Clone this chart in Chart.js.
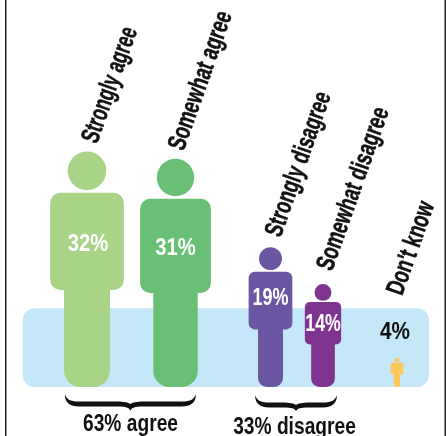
<!DOCTYPE html>
<html lang="en">
<head>
    <meta charset="UTF-8">
    <title>Agree or disagree</title>
    <script src="https://cdn.jsdelivr.net/npm/chart.js"></script>
    <style>
        html, body { margin: 0; padding: 0; background: #fff; overflow: hidden; }
        canvas { display: block; }
    </style>
</head>
<body>
    <canvas id="people" width="446" height="436"></canvas>
<script>
    // values
    const categories = ['Strongly agree', 'Somewhat agree', 'Strongly disagree', 'Somewhat disagree', "Don't know"];
    const percents = [32, 31, 19, 14, 4];
    const groupLabels = ['63% agree', '33% disagree'];

    // look of each figure
    const colors = ['#a9d386', '#69c074', '#6b56a3', '#7f3590', '#fdc75d'];
    const textFont = '"Liberation Sans", sans-serif';
    const shiftX = [0, 11, 28.5, 3.5, 0];
    const torsoW = [73.7, 70.7, 43.7, 36.3, 12.7];
    const legW = [46, 44.4, 25, 23.7, 6.3];
    const percentDx = [1, 0, 0, 0, 0];
    const percentDy = [4, 3, -2, 2, 0];
    const percentSquash = [0.88, 0.88, 0.78, 0.77, 0.9];
    const nameOffset = [[10, -7], [8, -7], [10, -9], [9, -12], [5, -61]];
    const nameSquash = [0.665, 0.705, 0.69, 0.7, 0.7];

    // the condensed face is not installed, so squeeze the regular one sideways
    function narrowText(ctx, text, x, y, squash, weight) {
        ctx.save();
        ctx.translate(x, y);
        ctx.scale(squash, 1);
        ctx.fillText(text, 0, 0);
        if (weight) {
            ctx.lineWidth = weight;
            ctx.strokeStyle = ctx.fillStyle;
            ctx.strokeText(text, 0, 0);
        }
        ctx.restore();
    }

    function bracePath(ctx, x1, x2, top, bottom) {
        // curly brace, filled so the stroke can swell towards the shoulders
        const mid = (x1 + x2) / 2;
        const upper = top + 7.5;
        const lower = top + 12.5;
        ctx.beginPath();
        ctx.moveTo(x1, top);
        ctx.bezierCurveTo(x1 + 1, top + 5, x1 + 5, upper, x1 + 14, upper);
        ctx.lineTo(mid - 14, upper);
        ctx.bezierCurveTo(mid - 6, upper, mid - 2, upper + 1, mid, top + 10);
        ctx.bezierCurveTo(mid + 2, upper + 1, mid + 6, upper, mid + 14, upper);
        ctx.lineTo(x2 - 14, upper);
        ctx.bezierCurveTo(x2 - 5, upper, x2 - 1, top + 5, x2, top);
        ctx.bezierCurveTo(x2 + 1, top + 8, x2 - 5, lower, x2 - 14, lower);
        ctx.lineTo(mid + 12, lower);
        ctx.bezierCurveTo(mid + 5, lower, mid + 1, lower + 1, mid, bottom);
        ctx.bezierCurveTo(mid - 1, lower + 1, mid - 5, lower, mid - 12, lower);
        ctx.lineTo(x1 + 14, lower);
        ctx.bezierCurveTo(x1 + 5, lower, x1 - 1, top + 8, x1, top);
        ctx.closePath();
        ctx.fill();
    }

    const peoplePlugin = {
        id: 'people',
        // side rules and the pale band sit behind the figures
        beforeDatasetsDraw(chart) {
            const ctx = chart.ctx;
            const yTop = chart.scales.y.getPixelForValue(10.7);
            const yBase = chart.scales.y.getPixelForValue(0);
            ctx.save();
            ctx.fillStyle = '#222';
            ctx.fillRect(5, 0, 1.5, 436);
            ctx.fillRect(444.5, 0, 1.5, 436);
            ctx.fillStyle = '#c5e8f9';
            ctx.beginPath();
            ctx.roundRect(22.7, yTop, 406.3, yBase - yTop, 12);
            ctx.fill();
            ctx.restore();
        },
        // each bar is drawn as a person: head, torso, legs
        beforeDatasetDraw(chart, args) {
            const ctx = chart.ctx;
            ctx.save();
            args.meta.data.forEach((bar, i) => {
                const cx = bar.x + shiftX[i];
                const top = bar.y;
                const h = bar.base - bar.y;
                const r = h * 0.082;
                const tw = torsoW[i];
                const lw = legW[i];
                const torsoTop = top + h * 0.175;
                const torsoBottom = top + h * 0.588;
                ctx.fillStyle = colors[i];
                ctx.beginPath();
                ctx.arc(cx, top + r, r, 0, Math.PI * 2);
                ctx.fill();
                ctx.beginPath();
                ctx.roundRect(cx - tw / 2, torsoTop, tw, torsoBottom - torsoTop, tw * 0.14);
                ctx.fill();
                ctx.beginPath();
                ctx.roundRect(cx - lw / 2, torsoBottom - 4, lw, bar.base - torsoBottom + 4, [0, 0, lw * 0.36, lw * 0.36]);
                ctx.fill();
            });
            ctx.restore();
            return false;
        },
        afterDatasetsDraw(chart) {
            const ctx = chart.ctx;
            const meta = chart.getDatasetMeta(0);
            ctx.save();
            meta.data.forEach((bar, i) => {
                const cx = bar.x + shiftX[i];
                const h = bar.base - bar.y;
                // name of the category, tilted above the head
                ctx.save();
                ctx.translate(cx + nameOffset[i][0], bar.y + nameOffset[i][1]);
                ctx.rotate(-70.5 * Math.PI / 180);
                ctx.font = 'bold 26px ' + textFont;
                ctx.fillStyle = '#111';
                ctx.textAlign = 'left';
                ctx.textBaseline = 'alphabetic';
                narrowText(ctx, chart.data.labels[i], 0, 0, nameSquash[i], 0.5);
                ctx.restore();
                // percentage, inside the torso except for the smallest figure
                ctx.textAlign = 'center';
                ctx.textBaseline = 'middle';
                ctx.font = 'bold 23px ' + textFont;
                if (percents[i] < 10) {
                    ctx.fillStyle = '#111';
                    narrowText(ctx, percents[i] + '%', cx - 2, 333, percentSquash[i]);
                } else {
                    ctx.fillStyle = '#fff';
                    narrowText(ctx, percents[i] + '%', cx + percentDx[i], bar.y + h * 0.38 + percentDy[i], percentSquash[i]);
                }
            });
            // brackets and totals under the figures
            ctx.fillStyle = '#111';
            bracePath(ctx, 65, 195.7, 394, 411);
            bracePath(ctx, 255.3, 336.7, 395, 411);
            ctx.textAlign = 'center';
            ctx.textBaseline = 'alphabetic';
            ctx.font = 'bold 24px ' + textFont;
            narrowText(ctx, groupLabels[0], 130.5, 431, 0.8);
            narrowText(ctx, groupLabels[1], 294.5, 434, 0.8);
            ctx.restore();
        }
    };

    new Chart(document.getElementById('people'), {
        type: 'bar',
        data: {
            labels: categories,
            datasets: [{ label: 'Share', data: percents, backgroundColor: colors }]
        },
        options: {
            responsive: false,
            animation: false,
            layout: { padding: { left: 48.25, right: 10.25, top: 19, bottom: 49 } },
            plugins: { legend: { display: false }, tooltip: { enabled: false } },
            scales: {
                x: { display: false },
                y: { display: false, min: 0, max: 50 }
            }
        },
        plugins: [peoplePlugin]
    });
</script>
</body>
</html>
